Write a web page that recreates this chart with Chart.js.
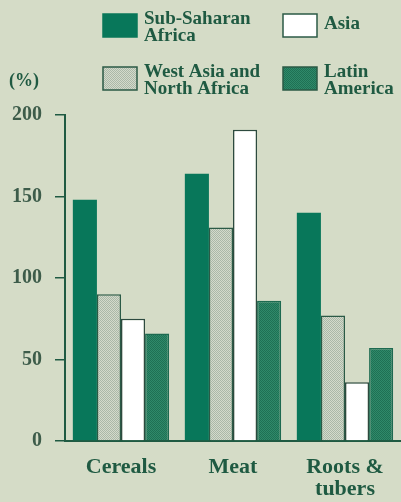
<!DOCTYPE html>
<html>
<head>
<meta charset="utf-8">
<script src="https://cdn.jsdelivr.net/npm/chart.js@4.4.0/dist/chart.umd.min.js"></script>
<style>
  html, body { margin: 0; padding: 0; background: #d5dcc7; }
  #wrap { width: 401px; height: 502px; }
</style>
</head>
<body>
<div id="wrap"><canvas id="chart" width="401" height="502"></canvas></div>
<script>
(function () {
  'use strict'

  // data
  var categories = ['Cereals', 'Meat', ['Roots &', 'tubers']]
  var seriesNames = ['Sub-Saharan Africa', 'West Asia and North Africa', 'Asia', 'Latin America']
  var legendLines = [['Sub-Saharan', 'Africa'], ['West Asia and', 'North Africa'], ['Asia'], ['Latin', 'America']]
  var ssAfrica = [148, 164, 140]
  var westAsia = [90, 131, 77]
  var asia = [75, 191, 36]
  var latinAm = [66, 86, 57]
  var yTicks = [0, 50, 100, 150, 200]

  var green = '#08775a'
  var ink = '#1f5a42'
  var serif = "'Liberation Serif', serif"

  // fine screen patterns for the shaded bars
  function screen (base, dot) {
    var c = document.createElement('canvas')
    c.width = 2
    c.height = 2
    var g = c.getContext('2d')
    g.fillStyle = base
    g.fillRect(0, 0, 2, 2)
    g.fillStyle = dot
    g.fillRect(0, 0, 1, 1)
    g.fillRect(1, 1, 1, 1)
    return g.createPattern(c, 'repeat')
  }
  var lightPat = screen('#d4dacb', '#aab8a8')
  var darkPat = screen('#2f8a6a', '#1f7054')

  var fills = [green, lightPat, '#ffffff', darkPat]
  var borders = [green, '#2b5a46', '#2d4a3f', '#1d6a50']

  var values = [ssAfrica, westAsia, asia, latinAm]
  var datasets = values.map(function (v, i) {
    return {
      label: seriesNames[i],
      data: v,
      backgroundColor: fills[i],
      borderColor: borders[i],
      borderWidth: i === 0 ? 0 : 1.5,
      borderSkipped: 'bottom',
      categoryPercentage: 0.86,
      barPercentage: 1.0
    }
  })

  // 2x2 legend drawn on the canvas
  var gridLegend = {
    id: 'gridLegend',
    afterDraw: function (chart) {
      var ctx = chart.ctx
      ctx.save()
      ctx.font = 'bold 19px ' + serif
      ctx.textBaseline = 'middle'
      ctx.textAlign = 'left'
      chart.data.datasets.forEach(function (ds, i) {
        var col = Math.floor(i / 2)
        var row = i % 2
        var bx = col === 0 ? 103 : 283
        var by = row === 0 ? 14 : 67
        ctx.fillStyle = ds.backgroundColor
        ctx.fillRect(bx, by, 34, 23)
        ctx.strokeStyle = ds.borderColor === green ? green : '#2b5a46'
        ctx.lineWidth = 1.5
        ctx.strokeRect(bx, by, 34, 23)
        var lines = legendLines[i]
        var cy = by + 11.5
        ctx.fillStyle = ink
        if (lines.length === 1) {
          ctx.fillText(lines[0], bx + 41, cy - 1)
        } else {
          ctx.fillText(lines[0], bx + 41, cy - 6)
          ctx.fillText(lines[1], bx + 41, cy + 11)
        }
      })
      ctx.font = 'bold 18px ' + serif
      ctx.fillStyle = ink
      ctx.fillText('(%)', 9, 81)
      ctx.restore()
    }
  }

  var config = {
    type: 'bar',
    data: { labels: categories, datasets: datasets },
    options: {
      responsive: false,
      animation: false,
      layout: { padding: { top: 115, right: 0, left: 0, bottom: 0 } },
      plugins: { legend: { display: false }, tooltip: { enabled: false } },
      scales: {
        x: {
          grid: { display: false, drawTicks: false },
          border: { display: true, color: ink, width: 2 },
          ticks: {
            color: ink,
            padding: 16,
            maxRotation: 0,
            font: { family: serif, size: 22, weight: 'bold', lineHeight: 0.98 }
          },
          afterFit: function (s) { s.height = 61 }
        },
        y: {
          min: 0,
          max: 200,
          afterBuildTicks: function (s) {
            s.ticks = yTicks.map(function (v) { return { value: v } })
          },
          grid: { drawOnChartArea: false, color: ink, tickLength: 10, lineWidth: 1.5 },
          border: { display: true, color: ink, width: 2 },
          ticks: {
            color: '#3d5c4a',
            padding: 13,
            font: { family: serif, size: 20, weight: 'bold' }
          },
          afterFit: function (s) { s.width = 65 }
        }
      }
    },
    plugins: [gridLegend]
  }

  new Chart(document.getElementById('chart'), config)
})()
</script>
</body>
</html>
